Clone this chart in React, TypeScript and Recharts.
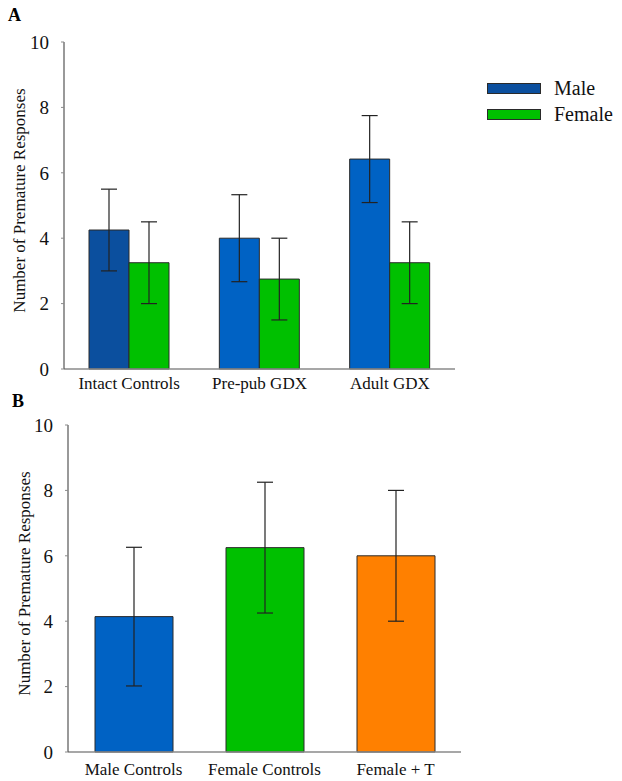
import { BarChart, Bar, XAxis, YAxis, ErrorBar, Cell } from "recharts";

const groupsA = ["Intact Controls", "Pre-pub GDX", "Adult GDX"];
const maleMeans = [4.25, 4.0, 6.42];
const maleErr = [1.25, 1.33, 1.33];
const femaleMeans = [3.25, 2.75, 3.25];
const femaleErr = [1.25, 1.25, 1.25];

const groupsB = ["Male Controls", "Female Controls", "Female + T"];
const meansB = [4.14, 6.25, 6.0];
const errB = [2.12, 2.0, 2.0];

const yTicks = [0, 2, 4, 6, 8, 10];

const font = "'Liberation Serif', 'Times New Roman', serif";
const axisGrey = "#8a8a8a";
const outline = "#2a2a2a";
const darkBlue = "#0b4f9e";
const blue = "#0062c4";
const green = "#00c000";
const orange = "#ff8000";
const colorsA = [darkBlue, blue, blue];
const colorsB = [blue, green, orange];
const legendItems = [
  { name: "Male", color: darkBlue },
  { name: "Female", color: green },
];

const dataA = groupsA.map((g, i) => ({
  group: g,
  male: maleMeans[i],
  maleErr: maleErr[i],
  female: femaleMeans[i],
  femaleErr: femaleErr[i],
}));

const dataB = groupsB.map((g, i) => ({ group: g, mean: meansB[i], err: errB[i] }));

const tickStyle = { fontFamily: font, fontSize: 19, fill: "#111" };
const xTickStyle = { fontFamily: font, fontSize: 17, fill: "#111" };

function YLabel({ viewBox, lx }: any) {
  const cy = viewBox.y + viewBox.height / 2 - 5;
  return (
    <text
      x={lx}
      y={cy}
      transform={`rotate(-90, ${lx}, ${cy})`}
      textAnchor="middle"
      dominantBaseline="central"
      style={{ fontFamily: font, fontSize: 17, fill: "#111" }}
    >
      Number of Premature Responses
    </text>
  );
}

function LegendBox() {
  return (
    <div style={{ position: "absolute", left: 487, top: 75, fontFamily: font }}>
      {legendItems.map((it) => (
        <div key={it.name} style={{ display: "flex", alignItems: "center", height: 26 }}>
          <div
            style={{
              width: 52,
              height: 9,
              background: it.color,
              border: `1px solid ${outline}`,
              marginRight: 13,
            }}
          />
          <span style={{ fontSize: 20, color: "#111" }}>{it.name}</span>
        </div>
      ))}
    </div>
  );
}

export default function App() {
  return (
    <div style={{ position: "absolute", left: 0, top: 0, width: 622, height: 781, background: "#fff" }}>
      <div style={{ position: "absolute", left: 8, top: 5, fontFamily: font, fontWeight: "bold", fontSize: 18 }}>A</div>
      <div style={{ position: "absolute", left: 12, top: 391, fontFamily: font, fontWeight: "bold", fontSize: 18 }}>B</div>

      <div style={{ position: "absolute", left: 0, top: 0 }}>
        <BarChart
          width={622}
          height={400}
          data={dataA}
          margin={{ top: 42, right: 167, bottom: 1, left: 10 }}
          barGap={0}
        >
          <XAxis
            dataKey="group"
            height={30}
            interval={0}
            tickLine={false}
            tickSize={0}
            tickMargin={8}
            tick={xTickStyle}
            axisLine={{ stroke: axisGrey, strokeWidth: 1.5 }}
          />
          <YAxis
            domain={[0, 10]}
            ticks={yTicks}
            width={54}
            tickSize={3}
            tickMargin={12}
            tick={tickStyle}
            stroke={axisGrey}
            axisLine={{ stroke: "#555", strokeWidth: 1.2 }}
            label={<YLabel lx={19} />}
          />
          <Bar dataKey="male" name="Male" barSize={40} stroke={outline} strokeWidth={1} isAnimationActive={false}>
            {dataA.map((d, i) => (
              <Cell key={d.group} fill={colorsA[i]} />
            ))}
            <ErrorBar dataKey="maleErr" width={8} stroke="#222" strokeWidth={1.2} />
          </Bar>
          <Bar dataKey="female" name="Female" barSize={40} fill={green} stroke={outline} strokeWidth={1} isAnimationActive={false}>
            <ErrorBar dataKey="femaleErr" width={8} stroke="#222" strokeWidth={1.2} />
          </Bar>
        </BarChart>
      </div>
      <LegendBox />

      <div style={{ position: "absolute", left: 0, top: 390 }}>
        <BarChart
          width={622}
          height={391}
          data={dataB}
          margin={{ top: 35, right: 161, bottom: 1, left: 10 }}
        >
          <XAxis
            dataKey="group"
            height={28}
            interval={0}
            tickLine={false}
            tickSize={0}
            tickMargin={11}
            tick={xTickStyle}
            axisLine={{ stroke: axisGrey, strokeWidth: 1.5 }}
          />
          <YAxis
            domain={[0, 10]}
            ticks={yTicks}
            width={58}
            tickSize={3}
            tickMargin={12}
            tick={tickStyle}
            stroke={axisGrey}
            axisLine={{ stroke: "#555", strokeWidth: 1.2 }}
            label={<YLabel lx={24} />}
          />
          <Bar dataKey="mean" barSize={78} stroke={outline} strokeWidth={1} isAnimationActive={false}>
            {dataB.map((d, i) => (
              <Cell key={d.group} fill={colorsB[i]} />
            ))}
            <ErrorBar dataKey="err" width={8} stroke="#222" strokeWidth={1.2} />
          </Bar>
        </BarChart>
      </div>
    </div>
  );
}
